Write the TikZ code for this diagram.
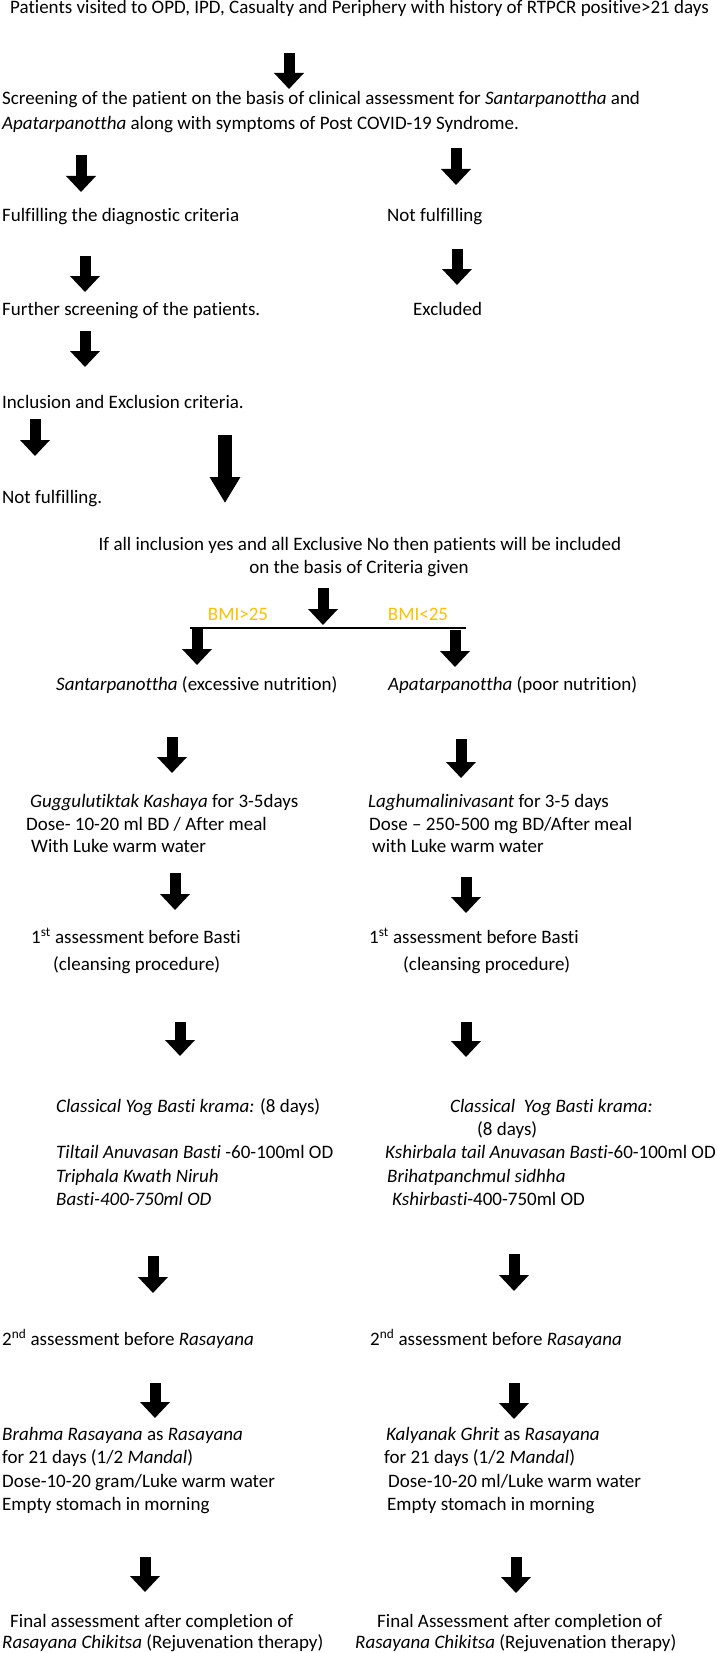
\documentclass[tikz,border=0pt]{standalone}
\usepackage{fontspec}
\setmainfont{Carlito}[Ligatures={TeX,NoCommon}]
\usetikzlibrary{arrows.meta}
\definecolor{bmigold}{HTML}{FFC000}
\newcommand\blkarrow[4]{\coordinate (#1s) at (#2,#3); \coordinate (#1e) at (#2,#4); \draw[blk] (#1s) -- (#1e);}
\newcommand\bigblkarrow[4]{\coordinate (#1s) at (#2,#3); \coordinate (#1e) at (#2,#4); \draw[bigblk] (#1s) -- (#1e);}
\begin{document}
\begin{tikzpicture}[x=1pt,y=-1pt,
  txt/.style={anchor=base west,inner sep=0pt,font=\fontsize{19}{23}\selectfont},
  ctxt/.style={anchor=base,inner sep=0pt,font=\fontsize{19}{23}\selectfont},
  bmi/.style={ctxt,text=bmigold},
  blk/.style={line width=11pt,-{Triangle[width=29pt,length=16pt]}},
  bigblk/.style={line width=14pt,-{Triangle[width=29pt,length=26pt]}}]
\useasboundingbox (0,0) rectangle (716,1653);
\fill[white] (0,0) rectangle (716,1653);
% texts
\node[txt] (title) at (10,14) {Patients visited to OPD, IPD, Casualty and Periphery with history of RTPCR positive>21 days};
\node[txt] (scr1) at (2,105) {Screening of the patient on the basis of clinical assessment for \textit{Santarpanottha} and};
\node[txt] (scr2) at (2,130) {\textit{Apatarpanottha} along with symptoms of Post COVID-19 Syndrome.};
\node[txt] (ful) at (2,222) {Fulfilling the diagnostic criteria};
\node[txt] (notful) at (387,222) {Not fulfilling};
\node[txt] (further) at (2,315) {Further screening of the patients.};
\node[txt] (excl) at (413,315) {Excluded};
\node[txt] (incl) at (2,408) {Inclusion and Exclusion criteria.};
\node[txt] (notful2) at (2,503) {Not fulfilling.};
\node[ctxt] (ifall) at (360,550) {If all inclusion yes and all Exclusive No then patients will be included};
\node[ctxt] (onbasis) at (359,573) {on the basis of Criteria given};
\node[bmi] (bmig) at (238,620) {BMI>25};
\node[bmi] (bmil) at (418,620) {BMI<25};
\node[txt] (sant) at (56,690) {\textit{Santarpanottha} (excessive nutrition)};
\node[txt] (apat) at (388,690) {\textit{Apatarpanottha} (poor nutrition)};
\node[txt] (gugg) at (30,807) {\textit{Guggulutiktak Kashaya} for 3-5days};
\node[txt] (dose1) at (26,830) {Dose- 10-20 ml BD / After meal};
\node[txt] (with1) at (31,852) {With Luke warm water};
\node[txt] (lagh) at (368,807) {\textit{Laghumalinivasant} for 3-5 days};
\node[txt] (dose2) at (369,830) {Dose – 250-500 mg BD/After meal};
\node[txt] (with2) at (372,852) {with Luke warm water};
\node[txt] (first1) at (31,943) {1\textsuperscript{st} assessment before Basti};
\node[txt] (clean1) at (53,970) {(cleansing procedure)};
\node[txt] (first2) at (369,943) {1\textsuperscript{st} assessment before Basti};
\node[txt] (clean2) at (403,970) {(cleansing procedure)};
\node[txt] (class1) at (56,1112) {\textit{Classical Yog Basti krama:} (8 days)};
\node[txt] (class2) at (450,1112) {\textit{Classical\ \ Yog Basti krama:}};
\node[txt] (days8) at (477,1135) {(8 days)};
\node[txt] (til) at (56,1158) {\textit{Tiltail Anuvasan Basti} -60-100ml OD};
\node[txt] (ksh) at (385,1158) {\textit{Kshirbala tail Anuvasan Basti}-60-100ml OD};
\node[txt] (trip) at (56,1182) {\textit{Triphala Kwath Niruh}};
\node[txt] (brih) at (387,1182) {\textit{Brihatpanchmul sidhha}};
\node[txt] (basti) at (56,1205) {\textit{Basti-400-750ml OD}};
\node[txt] (kshb) at (392,1205) {\textit{Kshirbasti}-400-750ml OD};
\node[txt] (second1) at (2,1345) {2\textsuperscript{nd} assessment before \textit{Rasayana}};
\node[txt] (second2) at (370,1345) {2\textsuperscript{nd} assessment before \textit{Rasayana}};
\node[txt] (brahma) at (2,1440) {\textit{Brahma Rasayana} as \textit{Rasayana}};
\node[txt] (kaly) at (386,1440) {\textit{Kalyanak Ghrit} as \textit{Rasayana}};
\node[txt] (for1) at (2,1463) {for 21 days (1/2 \textit{Mandal})};
\node[txt] (for2) at (384,1463) {for 21 days (1/2 \textit{Mandal})};
\node[txt] (dose3) at (2,1487) {Dose-10-20 gram/Luke warm water};
\node[txt] (dose4) at (388,1487) {Dose-10-20 ml/Luke warm water};
\node[txt] (empty1) at (2,1510) {Empty stomach in morning};
\node[txt] (empty2) at (387,1510) {Empty stomach in morning};
\node[txt] (final1) at (10,1627) {Final assessment after completion of};
\node[txt] (final2) at (377,1627) {Final Assessment after completion of};
\node[txt] (ras1) at (2,1648) {\textit{Rasayana Chikitsa} (Rejuvenation therapy)};
\node[txt] (ras2) at (355,1648) {\textit{Rasayana Chikitsa} (Rejuvenation therapy)};
% split line
\coordinate (splitL) at (190,628);
\coordinate (splitR) at (466,628);
\draw[line width=1.7pt] (splitL) -- (splitR);
% arrows
\blkarrow{a1}{289}{53}{89}
\blkarrow{a2l}{81}{155}{192}
\blkarrow{a2r}{456}{148}{185}
\blkarrow{a3l}{85}{256}{292}
\blkarrow{a3r}{457}{249}{285}
\blkarrow{a4}{85}{331}{367}
\blkarrow{a5s}{35}{419}{456}
\bigblkarrow{a5b}{225}{435}{503}
\blkarrow{a6}{323}{588}{625}
\blkarrow{a7l}{197}{628}{665}
\blkarrow{a7r}{455}{630}{667}
\blkarrow{a8l}{172}{737}{773}
\blkarrow{a8r}{461}{739}{778}
\blkarrow{a9l}{175}{873}{910}
\blkarrow{a9r}{466}{877}{913}
\blkarrow{a10l}{180}{1022}{1056}
\blkarrow{a10r}{466}{1022}{1057}
\blkarrow{a11l}{153}{1256}{1293}
\blkarrow{a11r}{514}{1254}{1291}
\blkarrow{a12l}{155}{1383}{1418}
\blkarrow{a12r}{514}{1383}{1419}
\blkarrow{a13l}{145}{1557}{1592}
\blkarrow{a13r}{516}{1557}{1593}
\end{tikzpicture}
\end{document}
